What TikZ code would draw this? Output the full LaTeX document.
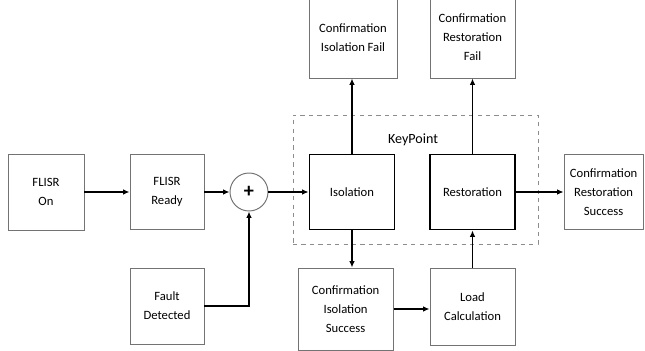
\documentclass[tikz,border=0pt]{standalone}
\usepackage{fontspec}
\setmainfont{Carlito}
\usetikzlibrary{arrows.meta,positioning}

\begin{document}
\begin{tikzpicture}[>=Latex,
  blk/.style={draw=black!55,line width=0.7pt,fill=white,align=center,font=\fontsize{9}{13.5}\selectfont,inner sep=2pt},
  keyblk/.style={blk,draw=black,line width=1.3pt},
  flow/.style={-{Latex[length=1.6mm,width=1.4mm]},line width=1pt}]
\useasboundingbox (0,0) rectangle (16.125,-8.775);
% dashed frame round the key steps
\node[draw=black!45,dashed,line width=0.7pt,minimum width=6.125cm,minimum height=3.225cm,inner sep=0pt] (kp) at (10.3875,-4.4875) {};
\node[font=\fontsize{10}{12}\selectfont] (kplabel) at (10.325,-3.5) {KeyPoint};
\node[blk,minimum width=1.9cm,minimum height=1.9cm] (on) at (1.15,-4.8) {FLISR\\On};
\node[blk,minimum width=1.85cm,minimum height=1.875cm] (ready) at (4.175,-4.8) {FLISR\\Ready};
\node[draw=black!55,line width=0.7pt,circle,minimum size=0.95cm,inner sep=0pt,font=\Large\bfseries] (plus) at (6.225,-4.8) {+};
\node[blk,minimum width=1.85cm,minimum height=1.9cm] (fault) at (4.175,-7.65) {Fault\\Detected};
\node[keyblk,minimum width=2.125cm,minimum height=1.875cm] (iso) at (8.8,-4.8) {Isolation};
\node[keyblk,minimum width=2.125cm,minimum height=1.875cm] (rest) at (11.8125,-4.8) {Restoration};
% top boxes run past the upper edge of the page
\node[blk,minimum width=2.2cm,minimum height=2.025cm] (isofail) at (8.825,-0.9375) {Confirmation\\Isolation Fail};
\node[blk,minimum width=2.125cm,minimum height=2.025cm] (restfail) at (11.8125,-0.9375) {Confirmation\\Restoration\\Fail};
\node[blk,minimum width=1.975cm,minimum height=1.875cm] (restsucc) at (15.09,-4.8) {Confirmation\\Restoration\\Success};
\node[blk,minimum width=2.375cm,minimum height=2.05cm] (isosucc) at (8.64,-7.725) {Confirmation\\Isolation\\Success};
\node[blk,minimum width=2.125cm,minimum height=1.925cm] (load) at (11.8125,-7.6625) {Load\\Calculation};
\draw[flow] (on.east)--(ready.west);
\draw[flow] (ready.east)--(plus.west);
\draw[flow] (fault.east)-|(plus.south);
\draw[flow] (plus.east)--(iso.west);
\draw[flow] (iso.north)--(isofail.south -| iso.north);
\draw[flow] (iso.south)--(isosucc.north -| iso.south);
\draw[flow] (isosucc.east)--(load.west |- isosucc.east);
\draw[flow] (load.north)--(rest.south);
\draw[flow] (rest.north)--(restfail.south);
\draw[flow] (rest.east)--(restsucc.west);
\end{tikzpicture}
\end{document}
